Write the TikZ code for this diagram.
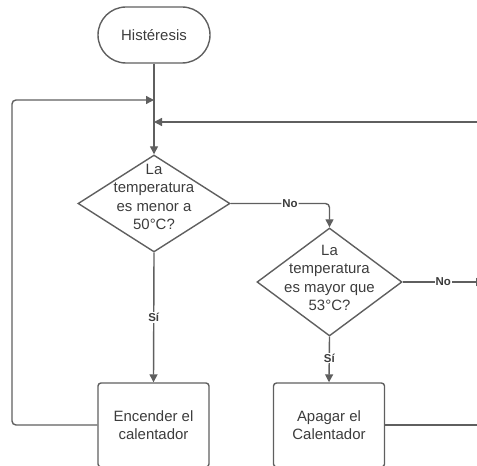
\documentclass[tikz,border=0pt]{standalone}
\usepackage{fontspec}
\setmainfont{Liberation Sans}
\usetikzlibrary{arrows.meta,shapes.geometric}
\definecolor{ln}{HTML}{5F5F5F}
\definecolor{tx}{HTML}{3C3C3C}
\begin{document}
\begin{tikzpicture}[x=1bp,y=-1bp,
  line/.style={draw=ln,line width=1.4bp},
  arr/.style={line,-{Triangle[length=8bp,width=8bp]}},
  txt/.style={text=tx,font=\fontsize{15}{18.5}\selectfont,align=center},
  lbl/.style={text=tx,font=\fontsize{11.5}{12}\selectfont\bfseries,fill=white,inner sep=1bp},
  proc/.style={line,rounded corners=3bp,minimum width=111bp,minimum height=84bp,inner sep=0pt},
  dec/.style={line,diamond,inner sep=0pt}
]
\useasboundingbox (0,0) rectangle (477,466);
\clip (0,0) rectangle (477,466);
\node[line,rounded corners=28bp,minimum width=112bp,minimum height=56bp,txt] (start) at (154,35) {Histéresis};
\node[dec,minimum width=152bp,minimum height=97bp] (d1) at (154,203.5) {};
\node[txt] (t1) at (154,197) {La\\temperatura\\es menor a\\50°C?};
\node[dec,minimum width=145bp,minimum height=108bp] (d2) at (329.5,282) {};
\node[txt] (t2) at (329.5,278) {La\\temperatura\\es mayor que\\53°C?};
\node[proc,txt] (b1) at (153.5,425) {Encender el\\calentador};
\node[proc,txt] (b2) at (329,425) {Apagar el\\Calentador};
\coordinate (m1) at (154,100);
\coordinate (m2) at (154,122);
\coordinate (lc) at (12,100);
\coordinate (rin) at (477,122);
\coordinate (rout) at (477,425);
\coordinate (nout) at (484,282);
\draw[arr] (start) -- (d1);
\draw[arr,rounded corners=4bp] (b1.west) -| (lc) -- (m1);
\draw[arr] (rin) -- (m2);
\draw[arr,rounded corners=4bp] (d1.east) -| node[lbl,pos=0.3]{No} (d2.north);
\draw[arr] (d1.south) -- node[lbl,pos=0.5]{Sí} (b1.north);
\draw[arr] (d2.south) -- node[lbl,pos=0.47]{Sí} (b2.north);
\draw[arr] (d2.east) -- node[lbl,pos=0.5]{No} (nout);
\draw[line] (b2.east) -- (rout);
\end{tikzpicture}
\end{document}
